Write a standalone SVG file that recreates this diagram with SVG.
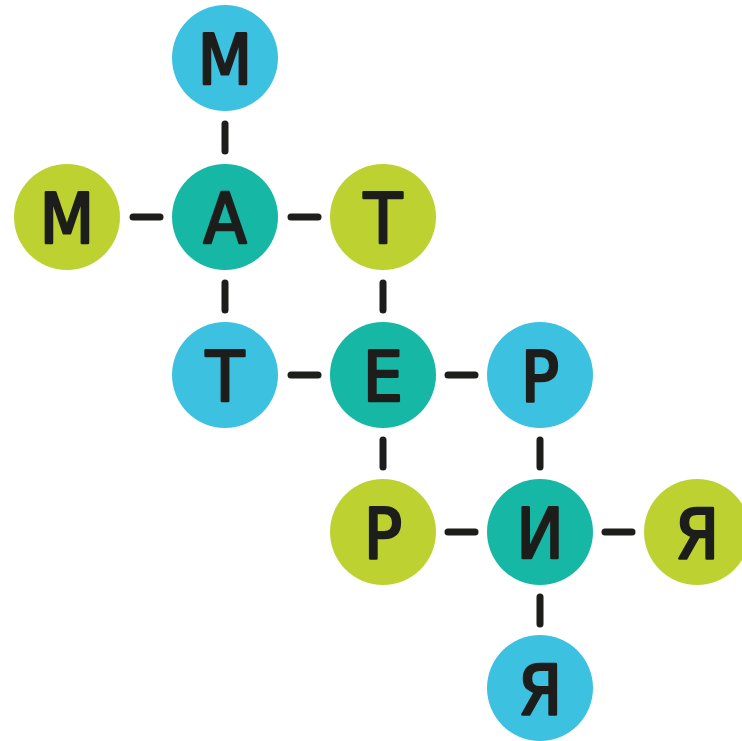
<svg xmlns="http://www.w3.org/2000/svg" width="742" height="741" viewBox="0 0 742 741">
<style>
.b{fill:#3cc1e1}.g{fill:#bdd231}.t{fill:#16b8a5}
text{font-family:"DejaVu Sans","Liberation Sans",sans-serif;font-weight:normal;font-size:70px;font-stretch:condensed;fill:#1d1d1b;stroke:#1d1d1b;stroke-width:2.6;stroke-linejoin:round;text-anchor:middle}
.c line{stroke:#1d1d1b;stroke-width:7;stroke-linecap:round}
</style>
<rect width="742" height="741" fill="#fff"/>
<g class="c" id="connectors">
<line x1="225" y1="124" x2="225" y2="151"/>
<line x1="133" y1="217" x2="160" y2="217"/>
<line x1="291" y1="217" x2="318" y2="217"/>
<line x1="225" y1="283" x2="225" y2="310"/>
<line x1="383" y1="283" x2="383" y2="310"/>
<line x1="291" y1="375" x2="318" y2="375"/>
<line x1="448" y1="375" x2="475" y2="375"/>
<line x1="383" y1="440" x2="383" y2="467"/>
<line x1="540" y1="440" x2="540" y2="467"/>
<line x1="448" y1="532" x2="475" y2="532"/>
<line x1="605" y1="532" x2="632" y2="532"/>
<line x1="540" y1="597" x2="540" y2="624"/>
</g>
<g id="n1"><circle class="b" cx="225" cy="58" r="53"/><text x="225" y="84">М</text></g>
<g id="n2"><circle class="g" cx="67" cy="217" r="53"/><text x="67" y="243">М</text></g>
<g id="n3"><circle class="t" cx="225" cy="217" r="53"/><text x="225" y="243">А</text></g>
<g id="n4"><circle class="g" cx="383" cy="217" r="53"/><text x="383" y="243">Т</text></g>
<g id="n5"><circle class="b" cx="225" cy="375" r="53"/><text x="225" y="401">Т</text></g>
<g id="n6"><circle class="t" cx="383" cy="375" r="53"/><text x="383" y="401">Е</text></g>
<g id="n7"><circle class="b" cx="540" cy="375" r="53"/><text x="540" y="401">Р</text></g>
<g id="n8"><circle class="g" cx="383" cy="532" r="53"/><text x="383" y="558">Р</text></g>
<g id="n9"><circle class="t" cx="540" cy="532" r="53"/><text x="540" y="558">И</text></g>
<g id="n10"><circle class="g" cx="697" cy="532" r="53"/><text x="697" y="558">Я</text></g>
<g id="n11"><circle class="b" cx="540" cy="688" r="53"/><text x="540" y="714">Я</text></g>
</svg>
